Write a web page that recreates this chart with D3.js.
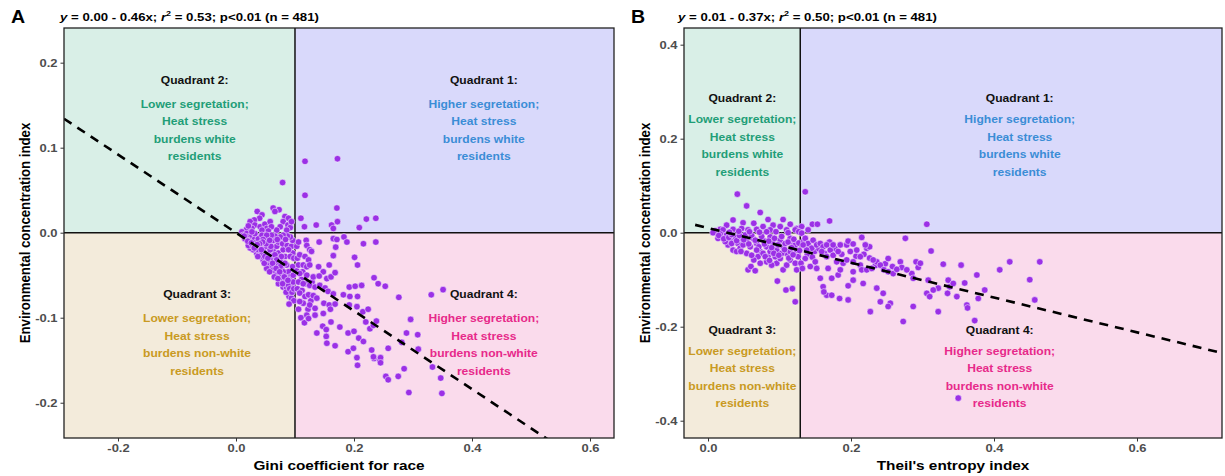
<!DOCTYPE html>
<html><head><meta charset="utf-8">
<script src="https://cdn.jsdelivr.net/npm/d3@7"></script>
<style>html,body{margin:0;padding:0;background:#fff;}svg{display:block;font-family:"Liberation Sans",Arial,sans-serif;}</style>
</head><body><svg id="c" width="1225" height="476"></svg>
<script>
// ---------------- data ----------------
const xTicksA = [-0.2, 0.0, 0.2, 0.4, 0.6];
const yTicksA = [-0.2, -0.1, 0.0, 0.1, 0.2];
const xTicksB = [0.0, 0.2, 0.4, 0.6];
const yTicksB = [-0.4, -0.2, 0.0, 0.2, 0.4];
const xTitleA = "Gini coefficient for race";
const xTitleB = "Theil's entropy index";
const yTitle = "Environmental concentration index";
const fitA = {intercept: 0.00, slope: -0.46, from: -0.2915};
const fitB = {intercept: 0.01, slope: -0.37, from: -0.018};
const subtitleA = ["y", " = 0.00 - 0.46x; ", "r", "2", " = 0.53; p<0.01 (n = 481)"];
const subtitleB = ["y", " = 0.01 - 0.37x; ", "r", "2", " = 0.50; p<0.01 (n = 481)"];
const quadTitles = ["Quadrant 1:", "Quadrant 2:", "Quadrant 3:", "Quadrant 4:"];
const quadLines = [
  ["Higher segretation;", "Heat stress", "burdens white", "residents"],
  ["Lower segretation;", "Heat stress", "burdens white", "residents"],
  ["Lower segretation;", "Heat stress", "burdens non-white", "residents"],
  ["Higher segretation;", "Heat stress", "burdens non-white", "residents"]
];
const cutA = 0.1, cutB = 0.129;

const pointsA = [
[0.117,0.084],[0.172,0.087],[0.117,0.044],[0.171,0.029],[0.110,0.017],[0.136,0.009],[0.162,0.009],[0.172,0.013],[0.165,0.005],[0.116,0.007],[0.209,0.006],[0.221,0.016],[0.237,0.017],
[0.079,0.059],[0.036,0.025],[0.044,0.021],[0.040,0.017],[0.031,0.015],[0.024,0.013],[0.032,0.009],[0.041,0.007],[0.049,0.010],[0.058,0.013],[0.063,0.029],[0.073,0.027],[0.066,0.025],[0.083,0.019],[0.089,0.017],[0.080,0.013],[0.088,0.009],[0.075,0.007],[0.092,0.006],[0.018,0.004],[0.010,0.001],[0.027,0.005],[0.052,0.005],[0.069,0.003],[0.060,0.007],[0.094,0.013],[0.021,0.008],[0.044,0.003],[0.055,0.002],[0.086,0.003],
[0.012,-0.003],[0.018,-0.001],[0.015,-0.007],[0.021,-0.005],[0.024,-0.009],[0.027,-0.003],[0.029,-0.013],[0.032,-0.007],[0.035,-0.011],[0.038,-0.016],[0.041,-0.005],[0.044,-0.015],[0.046,-0.020],[0.049,-0.009],[0.052,-0.016],[0.055,-0.024],[0.058,-0.013],[0.060,-0.028],[0.063,-0.020],[0.066,-0.036],[0.069,-0.016],[0.072,-0.024],[0.075,-0.032],[0.077,-0.042],[0.080,-0.020],[0.083,-0.028],[0.086,-0.038],[0.089,-0.046],[0.092,-0.052],[0.094,-0.060],[0.093,-0.067],[0.090,-0.075],[0.094,-0.077],[0.075,-0.056],[0.072,-0.060],[0.080,-0.064],[0.086,-0.065],[0.069,-0.048],[0.060,-0.040],[0.052,-0.036],[0.046,-0.032],[0.041,-0.028],[0.035,-0.024],[0.029,-0.020],[0.024,-0.018],[0.021,-0.015],[0.038,-0.007],[0.044,-0.003],[0.055,-0.007],[0.063,-0.009],[0.072,-0.011],[0.079,-0.013],[0.087,-0.015],[0.094,-0.016],[0.096,-0.024],[0.092,-0.028],[0.089,-0.020],[0.083,-0.036],[0.077,-0.028],[0.066,-0.026],[0.058,-0.032],[0.052,-0.042],[0.063,-0.044],[0.072,-0.038],[0.080,-0.046],[0.086,-0.054],[0.077,-0.050],[0.083,-0.058],[0.089,-0.062],[0.096,-0.040],[0.097,-0.050],[0.097,-0.058],[0.096,-0.009],[0.092,-0.005],[0.087,-0.004],[0.080,-0.003],[0.075,-0.005],[0.066,-0.004],[0.060,-0.003],[0.052,-0.003],[0.046,-0.008],[0.032,-0.001],[0.027,0.001],[0.029,-0.016],[0.038,-0.020],[0.044,-0.024],[0.049,-0.028],[0.058,-0.020],[0.069,-0.032],[0.075,-0.040],[0.059,-0.016],[0.051,-0.013],[0.045,-0.011],[0.040,-0.013],[0.034,-0.015],
[0.014,-0.004],[0.020,-0.010],[0.026,-0.012],[0.031,-0.018],[0.036,-0.014],[0.037,-0.028],[0.043,-0.020],[0.048,-0.036],[0.054,-0.030],[0.057,-0.046],[0.062,-0.036],[0.065,-0.052],[0.068,-0.042],[0.071,-0.054],[0.074,-0.046],[0.079,-0.060],[0.082,-0.052],[0.085,-0.070],[0.088,-0.056],[0.091,-0.066],[0.095,-0.070],[0.098,-0.080],[0.098,-0.030],[0.098,-0.066],[0.090,-0.084],[0.084,-0.008],[0.070,-0.008],[0.057,-0.009],
[0.103,-0.016],[0.104,-0.030],[0.103,-0.045],[0.104,-0.066],[0.106,-0.090],[0.111,-0.055],[0.112,-0.068],[0.113,-0.046],[0.118,-0.060],[0.122,-0.090],[0.127,-0.080],[0.129,-0.058],[0.110,-0.100],[0.116,-0.106],
[0.106,-0.011],[0.119,-0.009],[0.120,-0.015],[0.141,-0.011],[0.165,-0.007],[0.171,-0.008],[0.183,-0.005],[0.188,-0.011],[0.216,-0.013],[0.237,-0.011],[0.169,-0.017],[0.125,-0.020],[0.108,-0.026],[0.117,-0.028],[0.123,-0.032],[0.128,-0.022],[0.106,-0.038],[0.114,-0.038],[0.120,-0.040],[0.125,-0.038],[0.140,-0.040],[0.148,-0.046],[0.158,-0.038],[0.165,-0.027],[0.201,-0.029],[0.206,-0.038],[0.108,-0.048],[0.120,-0.050],[0.131,-0.052],[0.141,-0.051],[0.154,-0.054],[0.161,-0.052],[0.168,-0.047],[0.234,-0.053],[0.241,-0.060],[0.253,-0.063],[0.106,-0.058],[0.114,-0.060],[0.125,-0.062],[0.134,-0.064],[0.142,-0.062],[0.151,-0.065],[0.156,-0.069],[0.165,-0.072],[0.182,-0.073],[0.192,-0.064],[0.202,-0.063],[0.213,-0.062],[0.276,-0.076],[0.108,-0.071],[0.117,-0.075],[0.123,-0.073],[0.131,-0.074],[0.137,-0.077],[0.114,-0.083],[0.125,-0.085],[0.134,-0.089],[0.149,-0.083],[0.158,-0.085],[0.168,-0.084],[0.148,-0.095],[0.160,-0.090],[0.192,-0.085],[0.205,-0.087],[0.215,-0.093],[0.224,-0.090],[0.193,-0.075],[0.206,-0.075],[0.108,-0.081],[0.120,-0.097],[0.123,-0.101],[0.134,-0.097],[0.147,-0.110],[0.153,-0.114],[0.161,-0.105],[0.176,-0.111],[0.190,-0.118],[0.200,-0.116],[0.208,-0.124],[0.216,-0.128],[0.227,-0.113],[0.233,-0.109],[0.238,-0.104],[0.220,-0.105],[0.137,-0.118],[0.153,-0.122],[0.154,-0.130],[0.168,-0.133],[0.190,-0.140],[0.199,-0.136],[0.205,-0.147],[0.230,-0.138],[0.234,-0.148],[0.244,-0.150],[0.245,-0.147],[0.258,-0.136],[0.281,-0.129],[0.289,-0.118],[0.296,-0.102],[0.308,-0.120],[0.309,-0.137],[0.285,-0.160],[0.275,-0.169],[0.254,-0.169],[0.258,-0.173],[0.293,-0.188],[0.349,-0.189],[0.333,-0.158],[0.206,-0.156],[0.245,-0.153],[0.233,-0.146],[0.331,-0.073],[0.351,-0.067],[0.347,-0.171]
];

const pointsB = [
[0.041,0.082],[0.136,0.087],[0.054,0.057],[0.073,0.043],[0.306,0.018],[0.170,0.025],[0.084,0.028],[0.105,0.028],[0.049,0.021],[0.064,0.020],[0.035,0.027],[0.026,0.016],[0.115,0.018],[0.124,0.009],[0.101,0.013],[0.146,0.018],[0.153,0.018],[0.140,0.006],[0.131,0.013],[0.091,0.016],[0.077,0.013],[0.047,0.009],[0.035,0.007],[0.017,0.007],[0.010,0.004],[0.021,0.006],[0.056,0.006],[0.068,0.007],[0.087,0.006],[0.110,0.006],[0.122,0.006],
[0.012,-0.001],[0.019,-0.009],[0.026,-0.005],[0.031,-0.016],[0.038,-0.009],[0.042,-0.023],[0.047,-0.012],[0.052,-0.005],[0.054,-0.019],[0.059,-0.030],[0.063,-0.012],[0.068,-0.023],[0.073,-0.040],[0.077,-0.016],[0.082,-0.030],[0.087,-0.009],[0.091,-0.023],[0.096,-0.037],[0.101,-0.016],[0.105,-0.030],[0.110,-0.044],[0.115,-0.012],[0.119,-0.026],[0.124,-0.037],[0.126,-0.051],[0.035,-0.037],[0.040,-0.040],[0.070,-0.051],[0.064,-0.058],[0.056,-0.079],[0.060,-0.072],[0.066,-0.081],[0.084,-0.051],[0.096,-0.065],[0.101,-0.055],[0.105,-0.079],[0.110,-0.069],[0.115,-0.058],[0.097,-0.103],[0.109,-0.122],[0.118,-0.119],[0.122,-0.147],[0.028,-0.026],[0.033,-0.023],[0.045,-0.033],[0.049,-0.026],[0.077,-0.044],[0.087,-0.040],[0.094,-0.051],[0.103,-0.044],[0.115,-0.040],[0.122,-0.026],[0.108,-0.023],[0.054,-0.044],[0.082,-0.062],[0.089,-0.069],[0.073,-0.065],[0.080,-0.051],[0.122,-0.065],[0.124,-0.079],[0.014,-0.012],[0.024,-0.019],[0.017,-0.003],[0.007,0.000],
[0.015,-0.006],[0.022,-0.013],[0.029,-0.010],[0.033,-0.004],[0.040,-0.017],[0.044,-0.006],[0.050,-0.015],[0.057,-0.024],[0.061,-0.006],[0.066,-0.016],[0.071,-0.030],[0.075,-0.008],[0.079,-0.024],[0.085,-0.018],[0.089,-0.032],[0.093,-0.012],[0.098,-0.026],[0.103,-0.008],[0.107,-0.036],[0.112,-0.020],[0.117,-0.032],[0.120,-0.014],[0.127,-0.022],[0.128,-0.038],[0.046,-0.040],[0.061,-0.048],[0.068,-0.037],[0.086,-0.059],[0.092,-0.044],[0.099,-0.048],[0.113,-0.054],[0.119,-0.047],[0.058,0.002],[0.072,0.001],[0.095,0.002],[0.112,0.000],[0.127,0.002],[0.030,0.001],[0.043,0.003],[0.082,0.002],
[0.134,-0.018],[0.142,-0.030],[0.149,-0.040],[0.155,-0.034],[0.163,-0.044],[0.170,-0.020],[0.178,-0.034],[0.187,-0.046],[0.199,-0.040],[0.207,-0.050],[0.218,-0.046],[0.226,-0.054],[0.234,-0.070],[0.248,-0.066],[0.258,-0.072],[0.139,-0.046],[0.146,-0.052],
[0.131,-0.001],[0.136,-0.012],[0.140,-0.023],[0.145,-0.033],[0.138,-0.037],[0.133,-0.026],[0.147,-0.016],[0.152,-0.026],[0.157,-0.023],[0.161,-0.030],[0.166,-0.026],[0.171,-0.037],[0.175,-0.026],[0.159,-0.040],[0.166,-0.051],[0.175,-0.048],[0.185,-0.026],[0.194,-0.026],[0.182,-0.040],[0.196,-0.018],[0.203,-0.024],[0.208,-0.037],[0.215,-0.010],[0.222,-0.033],[0.226,-0.030],[0.189,-0.065],[0.194,-0.058],[0.203,-0.062],[0.213,-0.069],[0.215,-0.079],[0.222,-0.079],[0.229,-0.076],[0.236,-0.062],[0.241,-0.069],[0.246,-0.079],[0.252,-0.083],[0.259,-0.087],[0.269,-0.062],[0.271,-0.074],[0.276,-0.012],[0.285,-0.087],[0.291,-0.062],[0.294,-0.074],[0.297,-0.065],[0.306,-0.129],[0.310,-0.136],[0.312,-0.039],[0.322,-0.118],[0.329,-0.067],[0.336,-0.101],[0.338,-0.115],[0.343,-0.108],[0.354,-0.069],[0.362,-0.154],[0.363,-0.160],[0.373,-0.187],[0.376,-0.090],[0.322,-0.168],[0.287,-0.157],[0.273,-0.189],[0.255,-0.150],[0.252,-0.157],[0.241,-0.147],[0.245,-0.129],[0.227,-0.168],[0.236,-0.118],[0.217,-0.108],[0.203,-0.101],[0.196,-0.113],[0.196,-0.143],[0.184,-0.140],[0.166,-0.133],[0.161,-0.115],[0.157,-0.097],[0.162,-0.126],[0.173,-0.133],[0.173,-0.097],[0.182,-0.090],[0.136,-0.055],[0.143,-0.072],[0.150,-0.062],[0.130,-0.065],[0.132,-0.076],[0.152,-0.076],[0.168,-0.076],[0.180,-0.062],[0.185,-0.079],[0.203,-0.083],[0.213,-0.051],[0.220,-0.026],[0.231,-0.058],[0.252,-0.055],[0.264,-0.078],[0.278,-0.079],[0.287,-0.097],[0.308,-0.101],[0.315,-0.122],[0.335,-0.129],[0.348,-0.136],[0.378,-0.140],
[0.422,-0.062],[0.464,-0.062],[0.450,-0.100],[0.457,-0.143],[0.408,-0.079],[0.387,-0.122],[0.359,-0.107],[0.350,-0.352]
];

// ---------------- layout ----------------
const SX = 1.12; // horizontal text stretch of the reference
const svg = d3.select("#c");
const FONT = '"Liberation Sans", Arial, sans-serif';
const bg = {q1:"#d9d9fb", q2:"#d9efe7", q3:"#f3ebdb", q4:"#fadbec"};
const tc = {q1:"#3b8dd6", q2:"#1f9e77", q3:"#c99a22", q4:"#e7298a"};
const PT = "#9b30e6";

function stext(g, x, y, str, o) {
  const t = g.append("text")
    .attr("transform", `translate(${x},${y}) scale(${SX},1)` + (o.rot ? " rotate(-90)" : ""))
    .attr("text-anchor", o.anchor || "middle")
    .attr("font-family", FONT)
    .attr("font-weight", o.weight || "bold")
    .attr("font-size", o.size)
    .attr("fill", o.fill || "#000");
  if (str !== null) t.text(str);
  return t;
}

function panel(cfg) {
  const g = svg.append("g");
  const x = d3.scaleLinear().domain(cfg.xDomain).range([cfg.left, cfg.right]);
  const y = d3.scaleLinear().domain(cfg.yDomain).range([cfg.bottom, cfg.top]);
  const [x0, x1] = cfg.xDomain, [y0, y1] = cfg.yDomain;
  const rects = [
    {x:[cfg.cut, x1], y:[0, y1], c:bg.q1},
    {x:[x0, cfg.cut], y:[0, y1], c:bg.q2},
    {x:[x0, cfg.cut], y:[y0, 0], c:bg.q3},
    {x:[cfg.cut, x1], y:[y0, 0], c:bg.q4}
  ];
  g.selectAll("rect.q").data(rects).join("rect").attr("class","q")
    .attr("x", d => x(d.x[0])).attr("width", d => x(d.x[1]) - x(d.x[0]))
    .attr("y", d => y(d.y[1])).attr("height", d => y(d.y[0]) - y(d.y[1]))
    .attr("fill", d => d.c);

  cfg.qpos.forEach((p, i) => {
    const px = x(p[0]), py = y(p[1]);
    stext(g, px, py, quadTitles[i], {size: 10.8, fill: "#111"});
    quadLines[i].forEach((ln, j) => {
      stext(g, px, py + cfg.firstGap + j * cfg.lineGap, ln, {size: 10.8, fill: tc["q" + (i + 1)]});
    });
  });

  g.append("line").attr("x1", x(cfg.cut)).attr("x2", x(cfg.cut)).attr("y1", cfg.top).attr("y2", cfg.bottom)
    .attr("stroke", "#111").attr("stroke-width", 1.5);
  g.append("line").attr("x1", cfg.left).attr("x2", cfg.right).attr("y1", y(0)).attr("y2", y(0))
    .attr("stroke", "#111").attr("stroke-width", 1.5);

  g.append("g").selectAll("circle").data(cfg.points).join("circle")
    .attr("cx", d => x(d[0])).attr("cy", d => y(d[1])).attr("r", 3.3)
    .attr("fill", PT).attr("stroke", "#fff").attr("stroke-width", 0.5);

  const clipId = "clip" + cfg.id;
  g.append("clipPath").attr("id", clipId).append("rect")
    .attr("x", cfg.left).attr("y", cfg.top).attr("width", cfg.right - cfg.left).attr("height", cfg.bottom - cfg.top);
  const lx = [cfg.fit.from, x1];
  g.append("path").attr("clip-path", `url(#${clipId})`)
    .attr("d", d3.line()(lx.map(v => [x(v), y(cfg.fit.intercept + cfg.fit.slope * v)])))
    .attr("fill", "none").attr("stroke", "#000").attr("stroke-width", 2.6).attr("stroke-dasharray", "9,7");

  g.append("rect").attr("x", cfg.left).attr("y", cfg.top).attr("width", cfg.right - cfg.left).attr("height", cfg.bottom - cfg.top)
    .attr("fill", "none").attr("stroke", "#222").attr("stroke-width", 1.3);

  const fmt = d => d.toFixed(1);
  const ax = g.append("g").attr("transform", `translate(0,${cfg.bottom})`)
    .call(d3.axisBottom(x).tickValues(cfg.xTicks).tickFormat(fmt).tickSize(3.5).tickPadding(2));
  const ay = g.append("g").attr("transform", `translate(${cfg.left},0)`)
    .call(d3.axisLeft(y).tickValues(cfg.yTicks).tickFormat(fmt).tickSize(3.5).tickPadding(2));
  [ax, ay].forEach(a => {
    a.select(".domain").remove();
    a.selectAll(".tick line").attr("stroke", "#333");
    a.selectAll(".tick text").attr("font-family", FONT).attr("font-weight", "bold")
      .attr("font-size", 11.6).attr("fill", "#4d4d4d");
  });
  ax.selectAll(".tick text").attr("transform", `scale(${SX},1)`);
  ay.selectAll(".tick text").attr("transform", `scale(${SX},1)`).attr("x", -6.5 / SX);

  stext(g, (cfg.left + cfg.right) / 2, 469.5, cfg.xTitle, {size: 13.7});
  stext(g, cfg.yTitleX, (cfg.top + cfg.bottom) / 2, yTitle, {size: 13.2, rot: true});
  stext(g, cfg.labelX, 23, cfg.id, {size: 17.5, anchor: "start"});
  const st = stext(g, cfg.subX, 21, null, {size: 11.8, anchor: "start"});
  const sub = cfg.subtitle;
  st.append("tspan").attr("font-style", "italic").text(sub[0]);
  st.append("tspan").text(sub[1]);
  st.append("tspan").attr("font-style", "italic").text(sub[2]);
  st.append("tspan").attr("font-size", 8).attr("dy", -5).text(sub[3]);
  st.append("tspan").attr("dy", 5).text(sub[4]);
}

panel({
  id: "A", left: 64, right: 614, top: 28, bottom: 438,
  xDomain: [-0.2915, 0.6407], yDomain: [-0.2415, 0.2408],
  cut: cutA, points: pointsA, fit: fitA, xTicks: xTicksA, yTicks: yTicksA,
  xTitle: xTitleA, yTitleX: 30, labelX: 11, subX: 60, subtitle: subtitleA,
  qpos: [[0.42, 0.175], [-0.07, 0.175], [-0.066, -0.077], [0.42, -0.077]],
  firstGap: 24, lineGap: 17.5
});
panel({
  id: "B", left: 684, right: 1222, top: 28, bottom: 438,
  xDomain: [-0.0336, 0.7189], yDomain: [-0.4368, 0.4355],
  cut: cutB, points: pointsB, fit: fitB, xTicks: xTicksB, yTicks: yTicksB,
  xTitle: xTitleB, yTitleX: 650, labelX: 631, subX: 678, subtitle: subtitleB,
  qpos: [[0.436, 0.278], [0.048, 0.278], [0.048, -0.2155], [0.408, -0.2155]],
  firstGap: 21, lineGap: 17.5
});
</script></body></html>
